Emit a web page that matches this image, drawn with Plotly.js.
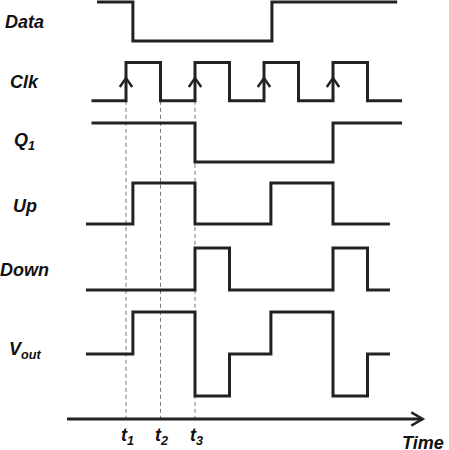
<!DOCTYPE html>
<html>
<head>
<meta charset="utf-8">
<script src="https://cdn.plot.ly/plotly-3.0.1.min.js"></script>
<style>
  body { margin: 0; background: #fff; }
</style>
</head>
<body>
<div id="chart" style="width:449px;height:450px"></div>
<script>
// time is counted in half clock periods, t1 = 0
var signalNames = ['Data', 'Clk', 'Q<sub>1</sub>', 'Up', 'Down', 'V<sub>out</sub>'];

var dataTimes = [-0.84, 0.2, 4.23, 7.86];
var dataLevels = [1, 0, 1, 1];

var clkTimes = [-1, 0, 1, 2, 3, 4, 5, 6, 7, 8];
var clkLevels = [0, 1, 0, 1, 0, 1, 0, 1, 0, 0];

var q1Times = [-1, 2, 6, 8];
var q1Levels = [1, 0, 1, 1];

var upTimes = [-1.16, 0.2, 2, 4.2, 6, 7.65];
var upLevels = [0, 1, 0, 1, 0, 0];

var downTimes = [-1.16, 2, 3, 6, 7, 7.65];
var downLevels = [0, 1, 0, 1, 0, 0];

var voutTimes = [-1.16, 0.2, 2, 3, 4.2, 6, 7, 7.65];
var voutLevels = [0, 1, -1, 0, 1, -1, 0, 0];

var clkArrowTimes = [0, 2, 4, 6];
var markerTimes = [0, 1, 2];
var markerLabels = ['t<sub>1</sub>', 't<sub>2</sub>', 't<sub>3</sub>'];
var timeStart = -1.71;
var timeEnd = 8.6;

// --- row placement (layout only) ---
var rowBase = [-1.025, -2.52, -4.05, -5.6, -7.25, -8.85];
var rowAmp = [0.975, 0.96, 0.975, 1.025, 1.05, 1.05];
var labelLift = [0.5, 0.5, 0.52, 0.45, 0.48, 0.08];
var labelX = -2.93;
var axisY = -10.475;

var ink = '#222';
var font = {family: 'Liberation Sans, Arial, sans-serif', size: 18, color: '#111', weight: 'bold', style: 'italic'};

var signals = [
  [dataTimes, dataLevels],
  [clkTimes, clkLevels],
  [q1Times, q1Levels],
  [upTimes, upLevels],
  [downTimes, downLevels],
  [voutTimes, voutLevels]
];

var traces = [];

// dashed guides for t1, t2, t3
var gx = [], gy = [];
markerTimes.forEach(function(t) {
  gx.push(t, t, null);
  gy.push(rowBase[1], axisY, null);
});
traces.push({x: gx, y: gy, mode: 'lines', line: {color: '#777', width: 1, dash: '4px,3px'}, hoverinfo: 'skip'});

signals.forEach(function(s, i) {
  traces.push({
    x: s[0],
    y: s[1].map(function(v) { return rowBase[i] + v * rowAmp[i]; }),
    mode: 'lines',
    line: {shape: 'hv', color: ink, width: 3},
    hoverinfo: 'skip'
  });
});

// chevrons on clock rising edges
var ax = [], ay = [];
clkArrowTimes.forEach(function(t) {
  var tip = rowBase[1] + 0.59 * rowAmp[1];
  var foot = rowBase[1] + 0.36 * rowAmp[1];
  ax.push(t - 0.18, t, t + 0.18, null);
  ay.push(foot, tip, foot, null);
});
traces.push({x: ax, y: ay, mode: 'lines', line: {color: ink, width: 2.5}, hoverinfo: 'skip'});

// time axis with open arrow head
traces.push({x: [timeStart, timeEnd], y: [axisY, axisY], mode: 'lines', line: {color: ink, width: 3}, hoverinfo: 'skip'});
traces.push({
  x: [timeEnd - 0.33, timeEnd, timeEnd - 0.33],
  y: [axisY + 0.165, axisY, axisY - 0.165],
  mode: 'lines', line: {color: ink, width: 2.5}, hoverinfo: 'skip'
});

var annotations = [];
signalNames.forEach(function(name, i) {
  annotations.push({
    x: labelX, y: rowBase[i] + labelLift[i] * rowAmp[i],
    text: name, showarrow: false, xanchor: 'center', yanchor: 'middle', font: font
  });
});
markerTimes.forEach(function(t, i) {
  annotations.push({
    x: t + 0.04, y: -10.9,
    text: markerLabels[i], showarrow: false, xanchor: 'center', yanchor: 'middle', font: font
  });
});
annotations.push({
  x: 8.62, y: -11.07, text: 'Time', showarrow: false,
  xanchor: 'center', yanchor: 'middle', font: font
});

var layout = {
  width: 449,
  height: 450,
  margin: {l: 0, r: 0, t: 0, b: 0},
  paper_bgcolor: '#fff',
  plot_bgcolor: '#fff',
  showlegend: false,
  xaxis: {range: [-3.652, 9.362], visible: false, fixedrange: true},
  yaxis: {range: [-11.25, 0], visible: false, fixedrange: true},
  annotations: annotations
};

Plotly.newPlot('chart', traces, layout, {staticPlot: true, displayModeBar: false});
</script>
</body>
</html>
